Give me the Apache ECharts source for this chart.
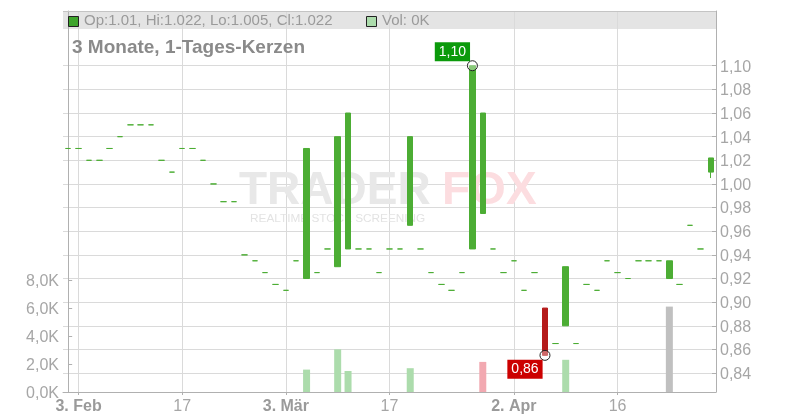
<!DOCTYPE html>
<html><head><meta charset="utf-8">
<script src="https://cdn.jsdelivr.net/npm/echarts@6/dist/echarts.min.js"></script>
<style>html,body{margin:0;padding:0;background:#fff}#c{width:800px;height:420px}</style>
</head><body><div id="c"></div>
<script>
// ---- data ----
const dates = [
 '2025-01-31',
 '2025-02-03','2025-02-04','2025-02-05','2025-02-06','2025-02-07',
 '2025-02-10','2025-02-11','2025-02-12','2025-02-13','2025-02-14',
 '2025-02-17','2025-02-18','2025-02-19','2025-02-20','2025-02-21',
 '2025-02-24','2025-02-25','2025-02-26','2025-02-27','2025-02-28',
 '2025-03-03','2025-03-04','2025-03-05','2025-03-06','2025-03-07',
 '2025-03-10','2025-03-11','2025-03-12','2025-03-13','2025-03-14',
 '2025-03-17','2025-03-18','2025-03-19','2025-03-20','2025-03-21',
 '2025-03-24','2025-03-25','2025-03-26','2025-03-27','2025-03-28',
 '2025-03-31','2025-04-01','2025-04-02','2025-04-03','2025-04-04',
 '2025-04-07','2025-04-08','2025-04-09','2025-04-10','2025-04-11',
 '2025-04-14','2025-04-15','2025-04-16','2025-04-17','2025-04-22',
 '2025-04-23','2025-04-24','2025-04-25','2025-04-28','2025-04-29',
 '2025-04-30','2025-05-02'
];
const tickLabels = {
 '2025-02-03':'3. Feb', '2025-02-17':'17', '2025-03-03':'3. Mär',
 '2025-03-17':'17', '2025-04-02':'2. Apr', '2025-04-16':'16'
};
const opens = [
 1.03,1.03,1.02,1.02,1.03,1.04,1.05,1.05,1.05,1.02,
 1.01,1.03,1.03,1.02,1.00,0.985,0.985,0.94,0.935,0.925,
 0.915,0.91,0.935,0.92,0.925,0.945,0.93,0.945,0.945,0.945,
 0.925,0.945,0.945,0.965,0.945,0.925,0.915,0.91,0.925,0.945,
 0.975,0.945,0.925,0.935,0.91,0.925,0.895,0.865,0.88,0.865,
 0.915,0.91,0.935,0.925,0.92,0.935,0.935,0.935,0.92,0.915,
 0.965,0.945,1.01
];
const closes = [
 1.03,1.03,1.02,1.02,1.03,1.04,1.05,1.05,1.05,1.02,
 1.01,1.03,1.03,1.02,1.00,0.985,0.985,0.94,0.935,0.925,
 0.915,0.91,0.935,1.03,0.925,0.945,1.04,1.06,0.945,0.945,
 0.925,0.945,0.945,1.04,0.945,0.925,0.915,0.91,0.925,1.10,
 1.06,0.945,0.925,0.935,0.91,0.925,0.855,0.865,0.93,0.865,
 0.915,0.91,0.935,0.925,0.92,0.935,0.935,0.935,0.935,0.915,
 0.965,0.945,1.022
];
const lows = [
 1.03,1.03,1.02,1.02,1.03,1.04,1.05,1.05,1.05,1.02,
 1.01,1.03,1.03,1.02,1.00,0.985,0.985,0.94,0.935,0.925,
 0.915,0.91,0.935,0.92,0.925,0.945,0.93,0.945,0.945,0.945,
 0.925,0.945,0.945,0.965,0.945,0.925,0.915,0.91,0.925,0.945,
 0.975,0.945,0.925,0.935,0.91,0.925,0.855,0.865,0.88,0.865,
 0.915,0.91,0.935,0.925,0.92,0.935,0.935,0.935,0.92,0.915,
 0.965,0.945,1.005
];
const highs = [
 1.03,1.03,1.02,1.02,1.03,1.04,1.05,1.05,1.05,1.02,
 1.01,1.03,1.03,1.02,1.00,0.985,0.985,0.94,0.935,0.925,
 0.915,0.91,0.935,1.03,0.925,0.945,1.04,1.06,0.945,0.945,
 0.925,0.945,0.945,1.04,0.945,0.925,0.915,0.91,0.925,1.10,
 1.06,0.945,0.925,0.935,0.91,0.925,0.895,0.865,0.93,0.865,
 0.915,0.91,0.935,0.925,0.92,0.935,0.935,0.935,0.935,0.915,
 0.965,0.945,1.022
];
const volumes = [
 0,0,0,0,0,0,0,0,0,0,
 0,0,0,0,0,0,0,0,0,0,
 0,0,0,1600,0,0,3050,1500,0,0,
 0,0,0,1700,0,0,0,0,0,0,
 2150,0,0,0,0,0,0,0,2300,0,
 0,0,0,0,0,0,0,0,6100,0,
 0,0,0
];
const priceTicks = [0.84,0.86,0.88,0.90,0.92,0.94,0.96,0.98,1.00,1.02,1.04,1.06,1.08,1.10];
const volumeTicks = [0,2000,4000,6000,8000];
const highIndex = 39;   // marked high
const lowIndex = 46;    // marked low

// ---- build ----
const FONT = 'Liberation Sans, Arial, Helvetica, sans-serif';
const GREEN = '#4cad34', RED = '#b51b1b';
const fmt2 = v => (Math.round(v * 100 + 1e-6) / 100).toFixed(2).replace('.', ',');
const last = dates.length - 1;
const labelIdx = dates.map((d, i) => tickLabels[d] ? i : -1).filter(i => i >= 0);

const candleData = dates.map((d, i) => [opens[i], closes[i], lows[i], highs[i]]);
const volColor = (i) => {
  if (i === 0) return '#acdcac';
  if (closes[i] > closes[i - 1]) return '#acdcac';
  if (closes[i] < closes[i - 1]) return '#f2a9b1';
  return '#c0c0c0';
};
const yRich = {a: {fontSize: 16, color: '#a6a6a6', fontFamily: FONT, padding: [3, 0, 0, 0]}};

const chart = echarts.init(document.getElementById('c'), null, {renderer: 'canvas'});
chart.setOption({
  animation: false,
  textStyle: {fontFamily: FONT},
  grid: {left: 63, right: 84, top: 11, bottom: 28, containLabel: false},
  xAxis: [
    {type: 'category', data: dates, boundaryGap: true, show: false},
    {type: 'value', min: -0.5, max: dates.length - 0.5, position: 'bottom',
     axisLine: {show: true, lineStyle: {color: '#b0b0b0'}},
     axisTick: {show: true, length: 3, customValues: labelIdx, lineStyle: {color: '#b0b0b0'}},
     axisLabel: {customValues: labelIdx, margin: 7, fontSize: 16, color: '#9a9a9a', fontFamily: FONT,
       formatter: v => {
         const t = tickLabels[dates[Math.round(v)]] || '';
         return /[A-Za-zä]/.test(t) ? '{b|' + t + '}' : '{n|' + t + '}';
       },
       rich: {b: {fontWeight: 'bold', fontSize: 16, color: '#9a9a9a', fontFamily: FONT},
              n: {fontSize: 16, color: '#a6a6a6', fontFamily: FONT}}},
     splitLine: {show: true, lineStyle: {color: '#dadada'}}}
  ],
  yAxis: [
    {type: 'value', position: 'left', min: 0, max: 27214,
     axisLine: {show: true, lineStyle: {color: '#b0b0b0'}},
     axisTick: {show: true, inside: true, length: 4, customValues: volumeTicks, lineStyle: {color: '#b0b0b0'}},
     axisLabel: {customValues: volumeTicks, margin: 4, rich: yRich,
       formatter: v => '{a|' + (v / 1000).toFixed(1).replace('.', ',') + 'K}'},
     splitLine: {show: false}},
    {type: 'value', position: 'right', min: 0.824, max: 1.1463,
     axisLine: {show: true, lineStyle: {color: '#b0b0b0'}},
     axisTick: {show: true, inside: true, length: 4, customValues: priceTicks, lineStyle: {color: '#b0b0b0'}},
     axisLabel: {customValues: priceTicks, margin: 4, rich: yRich,
       formatter: v => '{a|' + v.toFixed(2).replace('.', ',') + '}'},
     splitLine: {show: true, lineStyle: {color: '#dadada'}}}
  ],
  series: [
    {type: 'bar', xAxisIndex: 0, yAxisIndex: 0, barWidth: 7, z: 2,
     data: volumes,
     itemStyle: {color: p => volColor(p.dataIndex)}},
    {type: 'candlestick', xAxisIndex: 0, yAxisIndex: 1, barWidth: 6, z: 3,
     data: candleData,
     itemStyle: {color: GREEN, color0: RED, borderColor: GREEN, borderColor0: RED,
                 borderColorDoji: GREEN, borderWidth: 1},
     markPoint: {
       symbol: 'circle', symbolSize: 10, z: 10,
       itemStyle: {color: 'rgba(255,255,255,0.35)', borderColor: '#222', borderWidth: 1},
       label: {show: true, fontSize: 14, color: '#fff', fontFamily: FONT, padding: [3, 4, 1, 4],
               lineHeight: 15, position: 'inside'},
       data: [
         {coord: [highIndex, highs[highIndex]], value: highs[highIndex],
          label: {formatter: p => fmt2(p.value), backgroundColor: '#0b9a0b', offset: [-20, -14]}},
         {coord: [lowIndex, lows[lowIndex]], value: lows[lowIndex],
          label: {formatter: p => fmt2(p.value), backgroundColor: '#cc0000', offset: [-20, 14]}}
       ]
     }}
  ],
  graphic: [
    {type: 'rect', z: -1, silent: true, shape: {x: 63, y: 11, width: 653, height: 18},
     style: {fill: '#e4e4e4'}},
    {type: 'line', z: 5, silent: true, shape: {x1: 63, y1: 11.5, x2: 716, y2: 11.5},
     style: {stroke: '#c4c4c4', lineWidth: 1}},
    {type: 'rect', z: 5, silent: true, shape: {x: 68.5, y: 16.5, width: 10, height: 10},
     style: {fill: '#3ea52c', stroke: '#222', lineWidth: 1}},
    {type: 'text', z: 5, silent: true, x: 84, y: 21,
     style: {text: 'Op:' + opens[last] + ', Hi:' + highs[last] + ', Lo:' + lows[last] + ', Cl:' + closes[last],
             fill: '#9a9a9a', font: '15px ' + FONT, verticalAlign: 'middle'}},
    {type: 'rect', z: 5, silent: true, shape: {x: 366.5, y: 16.5, width: 10, height: 10},
     style: {fill: '#acdcac', stroke: '#222', lineWidth: 1}},
    {type: 'text', z: 5, silent: true, x: 382, y: 21,
     style: {text: 'Vol: ' + Math.round(volumes[last] / 1000) + 'K',
             fill: '#9a9a9a', font: '15px ' + FONT, verticalAlign: 'middle'}},
    {type: 'text', z: 5, silent: true, x: 72, y: 48,
     style: {text: '3 Monate, 1-Tages-Kerzen', fill: '#8a8a8a',
             font: 'bold 19px ' + FONT, verticalAlign: 'middle'}},
    // watermark
    {type: 'text', z: 1, silent: true, x: 239, y: 191,
     style: {text: 'TRADER', fill: '#e8e8e8', font: 'bold 46px ' + FONT, verticalAlign: 'middle'}},
    {type: 'text', z: 1, silent: true, x: 442, y: 191,
     style: {text: 'FOX', fill: '#fcdde0', font: 'bold 46px ' + FONT, verticalAlign: 'middle'}},
    {type: 'text', z: 1, silent: true, x: 250, y: 219, scaleX: 1.18,
     style: {text: 'REALTIME STOCK SCREENING', fill: '#e3e3e3', font: '10px ' + FONT, verticalAlign: 'middle'}}
  ]
});
</script>
</body></html>
